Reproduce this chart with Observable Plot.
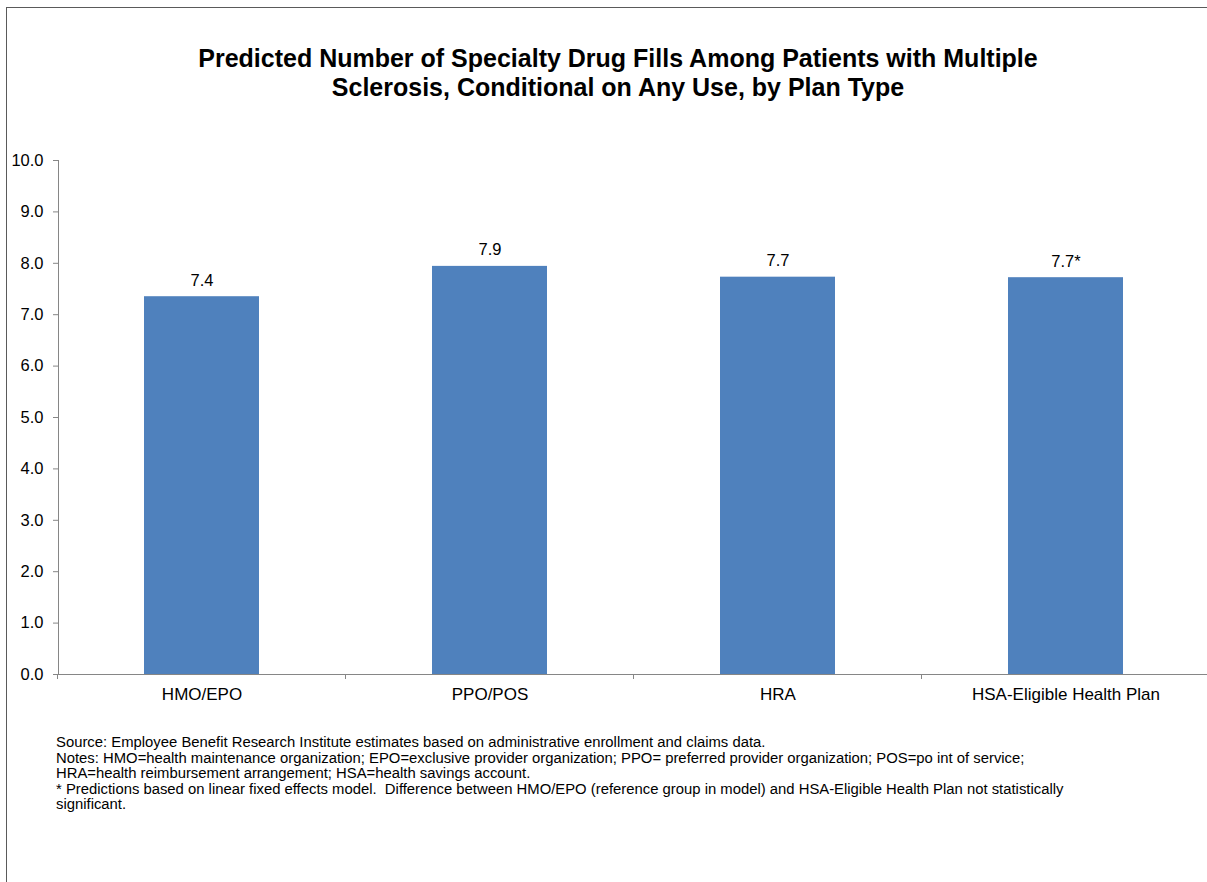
<!DOCTYPE html>
<html>
<head>
<meta charset="utf-8">
<script src="https://cdn.jsdelivr.net/npm/d3@7"></script>
<script src="https://cdn.jsdelivr.net/npm/@observablehq/plot@0.6"></script>
<style>
  html, body { margin: 0; padding: 0; background: #fff; }
  body { width: 1207px; height: 882px; position: relative; overflow: hidden; font-family: "Liberation Sans", Arial, sans-serif; color: #000; }
  #frame { position: absolute; left: 6px; top: 7px; width: 1220px; height: 900px; border: 1px solid #5a5a5a; box-sizing: border-box; }
  #title { position: absolute; left: 0; top: 44px; width: 1236px; text-align: center; font-weight: bold; font-size: 25px; line-height: 29px; }
  #chart { position: absolute; left: 0; top: 140px; }
  #notes { position: absolute; left: 56px; top: 735px; font-size: 14px; line-height: 15.5px; width: 1100px; white-space: nowrap; transform: scaleX(1.06); transform-origin: left top; }
</style>
</head>
<body>
<div id="frame"></div>
<div id="title">Predicted Number of Specialty Drug Fills Among Patients with Multiple<br>Sclerosis, Conditional on Any Use, by Plan Type</div>
<div id="chart"></div>
<div id="notes">Source: Employee Benefit Research Institute estimates based on administrative enrollment and claims data.<br>Notes: HMO=health maintenance organization; EPO=exclusive provider organization; PPO= preferred provider organization; POS=po int of service;<br>HRA=health reimbursement arrangement; HSA=health savings account.<br>* Predictions based on linear fixed effects model.&nbsp; Difference between HMO/EPO (reference group in model) and HSA-Eligible Health Plan not statistically<br>significant.</div>
<script>
const plans = ["HMO/EPO", "PPO/POS", "HRA", "HSA-Eligible Health Plan"];
const values = [7.35, 7.94, 7.73, 7.72];
const valueLabels = ["7.4", "7.9", "7.7", "7.7*"];
const yTicks = [0, 1, 2, 3, 4, 5, 6, 7, 8, 9, 10];

const data = plans.map((p, i) => ({plan: p, value: values[i], label: valueLabels[i]}));
const axisColor = "#868686";

const plot = Plot.plot({
  width: 1207,
  height: 600,
  marginLeft: 58,
  marginRight: -3,
  marginTop: 20,
  marginBottom: 66,
  style: {fontFamily: "'Liberation Sans', Arial, sans-serif", fontSize: "16.5px", color: "#000", background: "transparent", overflow: "hidden"},
  x: {domain: plans, paddingInner: 0.6, paddingOuter: 0.3, label: null},
  y: {domain: [0, 10], label: null},
  marks: [
    Plot.barY(data, {x: "plan", y: "value", fill: "#4F81BD"}),
    Plot.text(data, {x: "plan", y: "value", text: "label", dy: -11, lineAnchor: "bottom", fontSize: 16.5, fill: "#000"}),
    Plot.frame({anchor: "left", stroke: axisColor}),
    Plot.frame({anchor: "bottom", stroke: axisColor}),
    Plot.axisY({ticks: yTicks, tickFormat: d => d.toFixed(1), tickSize: 5, tickPadding: 10, stroke: axisColor, fill: "#000", fontSize: 16.5, label: null}),
    Plot.axisX({tickSize: 0, tickPadding: 13, fill: "#000", fontSize: 17, label: null})
  ]
});

document.getElementById("chart").appendChild(plot);

// category boundary ticks, derived from the x band scale
const xs = plot.scale("x");
const ys = plot.scale("y");
const y0 = ys.apply(0);
const gap = (xs.step - xs.bandwidth) / 2;
const bounds = plans.map(p => xs.apply(p) - gap);
bounds.push(xs.apply(plans[plans.length - 1]) + xs.bandwidth + gap);
d3.select(plot).append("g")
  .attr("stroke", axisColor)
  .selectAll("line")
  .data(bounds)
  .join("line")
  .attr("x1", d => d).attr("x2", d => d)
  .attr("y1", y0).attr("y2", y0 + 5);
</script>
</body>
</html>
